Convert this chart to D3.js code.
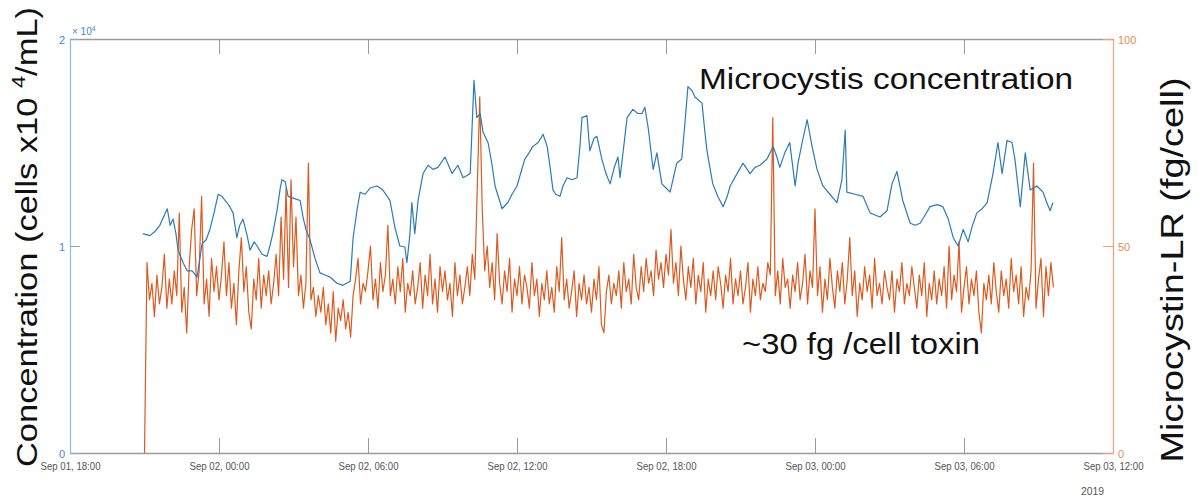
<!DOCTYPE html>
<html>
<head>
<meta charset="utf-8">
<script src="https://cdn.jsdelivr.net/npm/d3@7"></script>
<style>
  body { margin: 0; background: #fff; }
  svg { display: block; font-family: "Liberation Sans", Arial, sans-serif; }
  .tick text { font-family: "Liberation Sans Narrow", "Liberation Sans", sans-serif; font-size: 11px; }
</style>
</head>
<body>
<svg id="chart" width="1199" height="503"></svg>
<script>
// x axis ticks, every 6 hours
const xTickTimes = [
    "2019-09-01T18:00", "2019-09-02T00:00", "2019-09-02T06:00", "2019-09-02T12:00",
    "2019-09-02T18:00", "2019-09-03T00:00", "2019-09-03T06:00", "2019-09-03T12:00"
];
const leftTicks = [0, 10000, 20000];
const rightTicks = [0, 50, 100];

// Microcystis concentration (cells/mL): [hours after Sep 01 18:00, value]
const concSeries = [
    [2.94, 10600], [3.22, 10500], [3.42, 10700], [3.62, 11000], [3.91, 11800], [4.03, 11000],
    [4.15, 11300], [4.27, 10600], [4.35, 9800], [4.55, 9200], [4.71, 8800], [4.91, 8800],
    [5.11, 8500], [5.32, 10100], [5.48, 10300], [5.64, 10800], [5.80, 11600], [5.96, 12500],
    [6.12, 12400], [6.32, 12100], [6.44, 11900], [6.56, 11600], [6.72, 10400], [6.84, 11000],
    [6.97, 11300], [7.13, 10500], [7.25, 9800], [7.41, 10200], [7.53, 10000], [7.73, 9600],
    [7.93, 9500], [8.05, 10000], [8.17, 10600], [8.34, 11700], [8.46, 12800], [8.54, 13200],
    [8.66, 13100], [8.78, 12400], [9.02, 12300], [9.26, 12200], [9.38, 11400], [9.50, 10800],
    [9.66, 10300], [9.87, 9400], [10.07, 8700], [10.27, 8600], [10.47, 8500], [10.75, 8200],
    [10.99, 8100], [11.28, 8300], [11.40, 10400], [11.56, 11800], [11.68, 12600], [11.88, 12500],
    [12.08, 12800], [12.36, 12900], [12.60, 12700], [12.89, 12200], [13.09, 10900], [13.29, 10000],
    [13.49, 9950], [13.57, 9200], [13.69, 10500], [13.77, 12100], [13.89, 10600], [14.01, 12200],
    [14.21, 13500], [14.42, 13900], [14.62, 13700], [14.82, 13800], [15.10, 14300], [15.38, 13500],
    [15.62, 13900], [15.83, 13300], [16.11, 13500], [16.27, 18000], [16.39, 16200], [16.51, 16400],
    [16.63, 15500], [16.83, 15000], [16.99, 14000], [17.11, 12900], [17.40, 11800], [17.64, 12100],
    [17.80, 12500], [18.00, 12900], [18.16, 13600], [18.32, 14200], [18.48, 14500], [18.64, 14800],
    [18.85, 15000], [19.05, 15400], [19.21, 14800], [19.33, 13800], [19.45, 12700], [19.57, 12500],
    [19.73, 12400], [19.85, 12900], [20.01, 13300], [20.21, 13200], [20.42, 13300], [20.54, 14800],
    [20.62, 16200], [20.82, 16300], [20.94, 14600], [21.10, 15200], [21.22, 15300], [21.42, 14200],
    [21.58, 13500], [21.75, 13000], [21.91, 13800], [22.07, 14300], [22.15, 13300], [22.31, 15000],
    [22.43, 16200], [22.67, 16600], [22.87, 16400], [23.03, 16400], [23.15, 16700], [23.28, 15700],
    [23.48, 13700], [23.64, 14500], [23.84, 13000], [24.00, 12800], [24.16, 12600], [24.32, 13400],
    [24.44, 14000], [24.64, 14200], [24.77, 16000], [24.89, 17700], [25.05, 17500], [25.17, 17200],
    [25.45, 16900], [25.57, 15500], [25.65, 14600], [25.77, 13800], [25.89, 13000], [26.09, 12400],
    [26.30, 11900], [26.46, 12400], [26.58, 12900], [26.82, 13400], [27.10, 14000], [27.38, 13500],
    [27.58, 13800], [27.79, 13900], [28.07, 14200], [28.31, 14800], [28.47, 14300], [28.59, 13800],
    [28.79, 14500], [28.99, 15000], [29.20, 12900], [29.32, 14000], [29.48, 15000], [29.68, 16100],
    [29.88, 14800], [30.08, 13700], [30.32, 12900], [30.60, 12500], [30.89, 12100], [31.09, 13200],
    [31.21, 15600], [31.29, 12600], [31.61, 12500], [31.93, 12400], [32.22, 11600], [32.42, 11500],
    [32.62, 11400], [32.90, 11700], [33.10, 13000], [33.30, 13600], [33.54, 12200], [33.83, 11100],
    [34.03, 11000], [34.23, 11100], [34.43, 11500], [34.63, 11900], [34.91, 12000], [35.15, 11900],
    [35.36, 11300], [35.56, 10400], [35.76, 10000], [35.96, 10800], [36.16, 10200], [36.32, 10900],
    [36.52, 11600], [36.73, 11800], [36.93, 12100], [37.05, 12800], [37.17, 13500], [37.37, 15000],
    [37.53, 13500], [37.73, 15100], [37.93, 15000], [38.05, 14200], [38.26, 11900], [38.46, 14500],
    [38.66, 12700], [38.94, 12900], [39.18, 12600], [39.34, 12100], [39.46, 11700], [39.58, 12100]
];

// Microcystin-LR (fg/cell), one reading every 6 minutes from Sep 01 21:00
const toxinStart = "2019-09-01T21:00";
const toxinStepMinutes = 6;
const toxinValues = [
    0, 46, 37, 41, 33, 43, 36, 40, 48, 35,
    42, 36, 44, 38, 58, 34, 40, 29, 45, 54,
    59, 38, 44, 62, 36, 42, 33, 47, 39, 45,
    37, 43, 51, 38, 46, 35, 41, 31, 44, 52,
    39, 45, 34, 30, 42, 37, 47, 35, 43, 38,
    44, 36, 41, 48, 38, 57, 42, 64, 40, 66,
    45, 57, 38, 43, 35, 41, 70, 37, 40, 33,
    38, 34, 40, 31, 36, 29, 39, 27, 35, 32,
    37, 30, 34, 28, 38, 42, 47, 36, 41, 39,
    44, 50, 37, 42, 35, 46, 39, 43, 55, 38,
    42, 36, 45, 39, 47, 34, 41, 38, 44, 36,
    40, 46, 35, 43, 38, 48, 36, 42, 34, 45,
    39, 44, 37, 41, 33, 46, 38, 43, 36, 40,
    45, 38, 48, 42, 64, 86, 59, 44, 50, 40,
    46, 37, 53, 41, 36, 44, 39, 47, 34, 42,
    38, 45, 36, 43, 40, 35, 46, 38, 42, 33,
    41, 37, 44, 36, 40, 34, 45, 39, 52, 37,
    42, 35, 39, 44, 33, 41, 37, 43, 36, 40,
    34, 42, 37, 45, 31, 29, 39, 43, 36, 41,
    38, 44, 35, 46, 39, 42, 36, 48, 40, 37,
    45, 39, 47, 41, 44, 38, 49, 42, 46, 40,
    48, 43, 54, 41, 46, 38, 50, 42, 37, 45,
    40, 47, 36, 43, 39, 46, 34, 42, 38, 44,
    37, 45, 41, 35, 43, 39, 47, 36, 42, 38,
    44, 36, 40, 46, 34, 42, 38, 45, 37, 41,
    39, 46, 43, 81, 38, 44, 36, 47, 40, 42,
    35, 43, 39, 46, 37, 41, 48, 36, 44, 40,
    59, 38, 45, 34, 42, 37, 47, 40, 35, 44,
    39, 46, 36, 42, 52, 38, 44, 33, 41, 37,
    45, 39, 43, 35, 47, 38, 41, 36, 44, 40,
    37, 44, 34, 42, 39, 46, 36, 41, 38, 45,
    40, 35, 43, 38, 46, 33, 41, 37, 44, 36,
    42, 38, 45, 35, 50, 37, 43, 39, 51, 34,
    40, 45, 36, 42, 38, 44, 34, 29, 41, 37,
    43, 36, 46, 39, 34, 44, 38, 42, 35, 47,
    39, 43, 36, 45, 33, 40, 37, 44, 70, 35,
    42, 47, 33, 45, 38, 46, 40
];

const parse = d3.timeParse("%Y-%m-%dT%H:%M");
const t0 = parse(xTickTimes[0]);
const tEnd = parse(xTickTimes[xTickTimes.length - 1]);

const conc = concSeries.map(([h, v]) => ({ t: d3.timeMinute.offset(t0, Math.round(h * 60)), v }));
const toxStart = parse(toxinStart);
const toxin = toxinValues.map((v, i) => ({ t: d3.timeMinute.offset(toxStart, i * toxinStepMinutes), v }));

const plot = { left: 70, right: 1113, top: 39, bottom: 453 };
const colors = {
    conc: "#2a7bbb",
    toxin: "#dd5a1e",
    leftAxis: "#8cbde6",
    leftText: "#3d8bd1",
    rightAxis: "#f2a07e",
    rightText: "#e98a58",
    frame: "#9a9a9a",
    tickText: "#555"
};

const svg = d3.select("#chart");

const x = d3.scaleTime().domain([t0, tEnd]).range([plot.left, plot.right]);
const yL = d3.scaleLinear().domain([0, 20000]).range([plot.bottom, plot.top]);
const yR = d3.scaleLinear().domain([0, 100]).range([plot.bottom, plot.top]);

// series: toxin underneath, concentration on top
svg.append("path")
    .datum(toxin)
    .attr("fill", "none")
    .attr("stroke", colors.toxin)
    .attr("stroke-width", 1.2)
    .attr("stroke-linejoin", "round")
    .attr("d", d3.line().x(d => x(d.t)).y(d => yR(d.v)));

svg.append("path")
    .datum(conc)
    .attr("fill", "none")
    .attr("stroke", colors.conc)
    .attr("stroke-width", 1.2)
    .attr("stroke-linejoin", "round")
    .attr("d", d3.line().x(d => x(d.t)).y(d => yL(d.v)));

// axes
const xTicks = xTickTimes.map(parse);
const fmt = d3.timeFormat("%b %d, %H:%M");

const bottomAxis = svg.append("g")
    .attr("transform", `translate(0,${plot.bottom})`)
    .call(d3.axisBottom(x).tickValues(xTicks).tickFormat(fmt).tickSizeInner(-15).tickSizeOuter(0).tickPadding(9));
bottomAxis.select(".domain").attr("stroke", colors.frame).attr("stroke-width", 1.5);
bottomAxis.selectAll(".tick line").attr("stroke", colors.frame);
bottomAxis.selectAll(".tick text")
    .attr("fill", colors.tickText)
    .attr("textLength", 60)
    .attr("lengthAdjust", "spacingAndGlyphs");

const topAxis = svg.append("g")
    .attr("transform", `translate(0,${plot.top})`)
    .call(d3.axisTop(x).tickValues(xTicks).tickFormat("").tickSizeInner(-15).tickSizeOuter(0));
topAxis.select(".domain").attr("stroke", colors.frame).attr("stroke-width", 1.5);
topAxis.selectAll(".tick line").attr("stroke", colors.frame);

svg.append("text")
    .attr("x", plot.right - 32)
    .attr("y", 495)
    .attr("fill", colors.tickText)
    .style("font-size", "11px")
    .attr("textLength", 23)
    .attr("lengthAdjust", "spacingAndGlyphs")
    .text("2019");

const leftAxis = svg.append("g")
    .attr("transform", `translate(${plot.left},0)`)
    .call(d3.axisLeft(yL).tickValues(leftTicks).tickFormat(d => d / 10000).tickSizeInner(-10).tickSizeOuter(0).tickPadding(5));
leftAxis.select(".domain").attr("stroke", colors.leftAxis).attr("stroke-width", 1.2);
leftAxis.selectAll(".tick line").attr("stroke", "#8aa6c0");
leftAxis.selectAll(".tick text").attr("fill", colors.leftText).attr("dy", "0.45em");

const rightAxis = svg.append("g")
    .attr("transform", `translate(${plot.right},0)`)
    .call(d3.axisRight(yR).tickValues(rightTicks).tickSizeInner(-10).tickSizeOuter(0).tickPadding(5));
rightAxis.select(".domain").attr("stroke", colors.rightAxis).attr("stroke-width", 1.2);
rightAxis.selectAll(".tick line").attr("stroke", colors.rightAxis);
rightAxis.selectAll(".tick text").attr("fill", colors.rightText).attr("dy", "0.45em");

// exponent marker on the left axis
const expo = svg.append("text")
    .attr("x", plot.left + 2)
    .attr("y", plot.top - 4)
    .attr("fill", colors.leftText)
    .style("font-size", "10px");
expo.append("tspan").text("× 10");
expo.append("tspan").attr("dy", -4).style("font-size", "7px").text("4");

// axis titles
const leftTitle = svg.append("text")
    .attr("transform", `translate(37,237) rotate(-90)`)
    .attr("text-anchor", "middle")
    .attr("fill", "#111")
    .style("font-size", "30px")
    .attr("textLength", 460)
    .attr("lengthAdjust", "spacingAndGlyphs");
leftTitle.append("tspan").text("Concentration (cells x10 ");
leftTitle.append("tspan").attr("dy", -12).style("font-size", "19px").text("4");
leftTitle.append("tspan").attr("dy", 12).text("/mL)");

svg.append("text")
    .attr("transform", `translate(1183,270) rotate(-90)`)
    .attr("text-anchor", "middle")
    .attr("fill", "#111")
    .style("font-size", "31px")
    .attr("textLength", 385)
    .attr("lengthAdjust", "spacingAndGlyphs")
    .text("Microcystin-LR (fg/cell)");

// annotations
svg.append("text")
    .attr("x", 699)
    .attr("y", 89)
    .attr("fill", "#111")
    .style("font-size", "30px")
    .attr("textLength", 374)
    .attr("lengthAdjust", "spacingAndGlyphs")
    .text("Microcystis concentration");

svg.append("text")
    .attr("x", 742)
    .attr("y", 354)
    .attr("fill", "#111")
    .style("font-size", "30px")
    .attr("textLength", 238)
    .attr("lengthAdjust", "spacingAndGlyphs")
    .text("~30 fg /cell toxin");
</script>
</body>
</html>
